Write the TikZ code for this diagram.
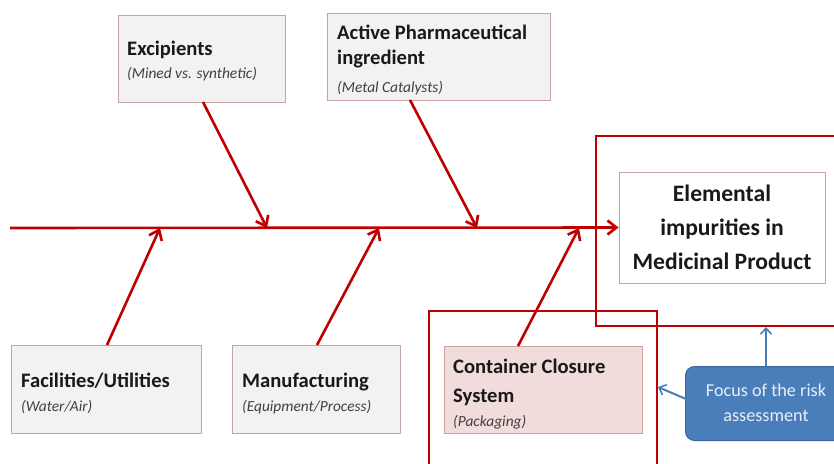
\documentclass[tikz,border=0pt]{standalone}
\usepackage{fontspec}
\setmainfont{Carlito}
\usetikzlibrary{arrows.meta}
\definecolor{spinered}{HTML}{C00000}
\definecolor{boxgray}{HTML}{F2F2F2}
\definecolor{boxedge}{HTML}{C9A3A3}
\definecolor{pinkfill}{HTML}{F2DCDB}
\definecolor{focusblue}{HTML}{4A7EBB}
\definecolor{focusedge}{HTML}{3A669C}
\definecolor{subgray}{HTML}{404040}
\definecolor{focustext}{HTML}{E8EEF7}
\tikzset{
  causebox/.style={draw=boxedge, fill=boxgray, line width=0.8pt, inner sep=0pt},
  title/.style={anchor=base west, inner sep=0pt, font=\fontsize{20.6}{24}\selectfont\bfseries, text=black!90},
  sub/.style={anchor=base west, inner sep=0pt, font=\fontsize{15.4}{18}\selectfont\itshape, text=subgray},
  redarrow/.style={draw=spinered, line width=2.6pt, -{Straight Barb[length=9pt,width=14pt,line width=2.6pt]}},
  redframe/.style={draw=spinered, line width=1.8pt},
  bluearrow/.style={draw=focusblue, line width=2pt, -{Straight Barb[length=6pt,width=11pt,line width=1.6pt]}}
}
\begin{document}
\begin{tikzpicture}[x=1pt,y=-1pt]
\useasboundingbox (0,0) rectangle (834,463);
\clip (0,0) rectangle (834,463);
\fill[white] (0,0) rectangle (834,463);

% cause boxes
\draw[causebox] (118,15) rectangle (285,102);
\coordinate (excB) at (203,102);
\node[title] (excT) at (127,55) {Excipients};
\node[sub] (excS) at (127,78) {(Mined vs. synthetic)};

\draw[causebox] (327,13) rectangle (550,100);
\coordinate (apiB) at (410,100);
\node[title] (apiT1) at (337,39) {Active Pharmaceutical};
\node[title] (apiT2) at (337,64) {ingredient};
\node[sub] (apiS) at (337,92) {(Metal Catalysts)};

\draw[causebox] (11,345) rectangle (201,433);
\coordinate (facT) at (107,345);
\node[title] (facT1) at (21,387) {Facilities/Utilities};
\node[sub] (facS) at (21,411) {(Water/Air)};

\draw[causebox] (232,345) rectangle (400,433);
\coordinate (manT) at (317,345);
\node[title] (manT1) at (242,387) {Manufacturing};
\node[sub] (manS) at (242,411) {(Equipment/Process)};

\draw[causebox, fill=pinkfill] (444,346) rectangle (642,433);
\coordinate (conT) at (518,346);
\node[title] (conT1) at (453,373) {Container Closure};
\node[title] (conT2) at (453,402) {System};
\node[sub] (conS) at (453,426) {(Packaging)};

% effect box
\node[draw=boxedge, fill=white, line width=0.8pt, minimum width=206pt, minimum height=111pt,
      align=center, font=\fontsize{23.6}{34}\selectfont\bfseries, text=black!90]
  (effect) at (722,227.5) {Elemental\\impurities in\\Medicinal Product};

% spine
\coordinate (spineL) at (10,228);
\coordinate (s1) at (267,228);
\coordinate (s2) at (477,228);
\coordinate (s3) at (160,228);
\coordinate (s4) at (379,228);
\coordinate (s5) at (579,228);
\draw[redarrow] (spineL) -- (effect.west);

% branch arrows
\draw[redarrow] (excB) -- (s1);
\draw[redarrow] (apiB) -- (s2);
\draw[redarrow] (facT) -- (s3);
\draw[redarrow] (manT) -- (s4);
\draw[redarrow] (conT) -- (s5);

% red frames
\draw[redframe] (596,136) rectangle (850,326);
\draw[redframe] (429,311) rectangle (657,480);
\coordinate (frameA) at (766,327);
\coordinate (frameB) at (658,387);

% focus box
\node[draw=focusedge, fill=focusblue, line width=1pt, rounded corners=9pt,
      minimum width=170pt, minimum height=74pt, anchor=north west] (focus) at (685,366) {};
\node[align=center, font=\fontsize{18.2}{25}\selectfont, text=focustext, inner sep=0pt]
  (focusT) at (766,403) {Focus of the risk\\assessment};
\coordinate (focusTop) at (766,366);
\coordinate (focusLeft) at (686,399);
\draw[bluearrow] (focusTop) -- (frameA);
\draw[bluearrow] (focusLeft) -- (frameB);
\end{tikzpicture}
\end{document}
